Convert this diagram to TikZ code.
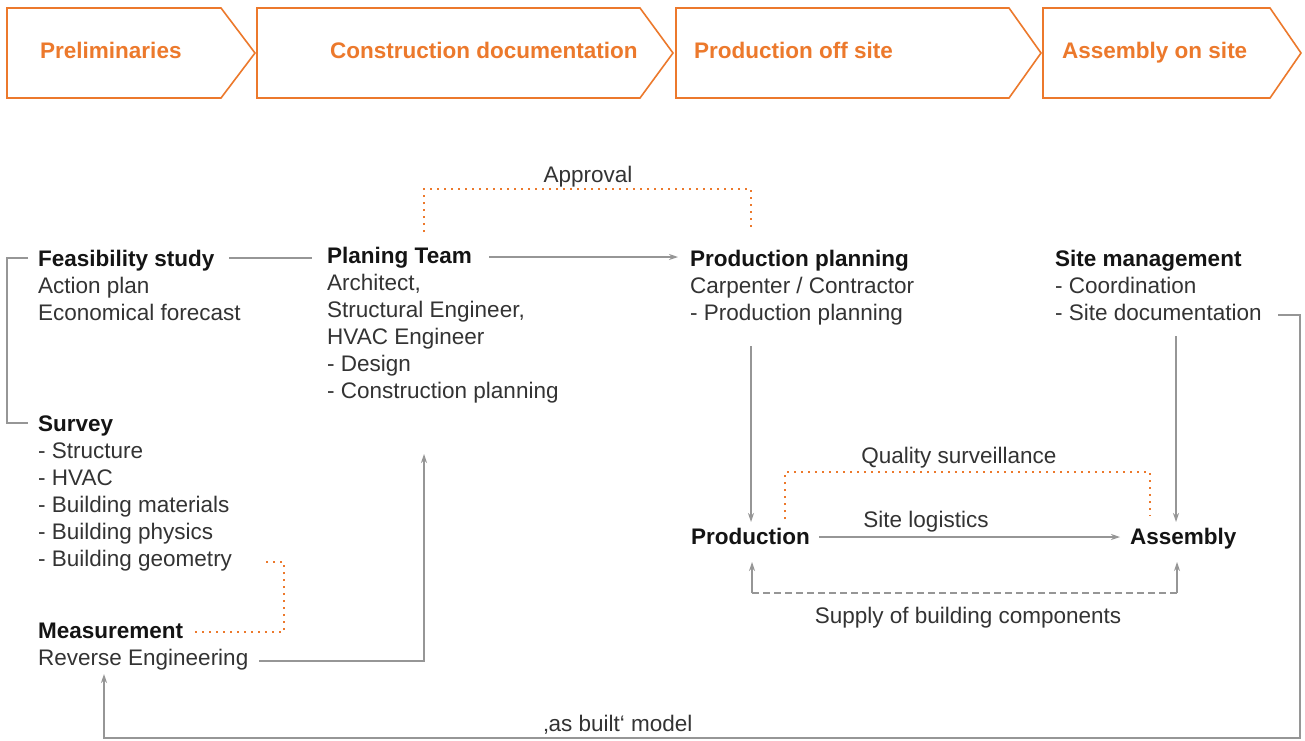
\documentclass[tikz,border=0pt]{standalone}
\usepackage{fontspec}
\setmainfont{Liberation Sans}
\usetikzlibrary{arrows.meta}
\definecolor{orng}{RGB}{236,121,44}
\definecolor{lgray}{RGB}{150,150,150}
\definecolor{txt}{RGB}{51,51,51}
\definecolor{hd}{RGB}{20,20,20}
\begin{document}
\begin{tikzpicture}[x=1pt,y=-1pt,
  chev/.style={draw=orng,line width=1.6pt,line join=miter},
  ttl/.style={anchor=base west,inner sep=0pt,text=orng,font=\fontsize{22.5}{27}\selectfont\bfseries},
  blk/.style={anchor=north west,inner sep=0pt,align=left,text=txt,font=\fontsize{22.5}{27}\selectfont},
  one/.style={anchor=base west,inner sep=0pt,text=hd,font=\fontsize{22.5}{27}\selectfont\bfseries},
  lbl/.style={anchor=base,inner sep=0pt,text=txt,font=\fontsize{22.5}{27}\selectfont},
  conn/.style={draw=lgray,line width=1.1pt},
  arr/.style={conn,-{Stealth[length=9pt,width=6pt]}},
  dots/.style={draw=orng,line width=2.4pt,dash pattern=on 2.4pt off 4.6pt},
  dsh/.style={draw=lgray,line width=1.1pt,dash pattern=on 7pt off 4pt}]
\useasboundingbox (0,0) rectangle (1305,740);
\fill[white] (0,0) rectangle (1305,740);
% chevrons
\draw[chev] (7,8) -- (221,8) -- (255,53) -- (221,98) -- (7,98) -- cycle;
\draw[chev] (257,8) -- (640,8) -- (673,53) -- (640,98) -- (257,98) -- cycle;
\draw[chev] (676,8) -- (1009,8) -- (1041,53) -- (1009,98) -- (676,98) -- cycle;
\draw[chev] (1043,8) -- (1270,8) -- (1301,53) -- (1270,98) -- (1043,98) -- cycle;
\node[ttl] (t1) at (40,58) {Preliminaries};
\node[ttl] (t2) at (330,58) {Construction documentation};
\node[ttl] (t3) at (694,58) {Production off site};
\node[ttl] (t4) at (1062,58) {Assembly on site};
% blocks
\node[blk] (feas) at (38,250) {{\color{hd}\bfseries Feasibility study}\\Action plan\\Economical forecast};
\node[blk] (plan) at (327,247) {{\color{hd}\bfseries Planing Team}\\Architect,\\Structural Engineer,\\HVAC Engineer\\- Design\\- Construction planning};
\node[blk] (pp) at (690,250) {{\color{hd}\bfseries Production planning}\\Carpenter / Contractor\\- Production planning};
\node[blk] (sm) at (1055,250) {{\color{hd}\bfseries Site management}\\- Coordination\\- Site documentation};
\node[blk] (surv) at (38,416) {{\color{hd}\bfseries Survey}\\- Structure\\- HVAC\\- Building materials\\- Building physics\\- Building geometry};
\node[blk] (meas) at (38,623) {{\color{hd}\bfseries Measurement}\\Reverse Engineering};
\node[one] (prod) at (691,544) {Production};
\node[one] (asm) at (1130,544) {Assembly};
% labels
\node[lbl] (lapp) at (588,182) {Approval};
\node[lbl] (lqual) at (959,463) {Quality surveillance};
\node[lbl] (llog) at (926,527) {Site logistics};
\node[lbl] (lsup) at (968,623) {Supply of building components};
\node[lbl] (lasb) at (618,731) {‚as built‘ model};
% coordinates
\coordinate (b1) at (28,258); \coordinate (b2) at (7,258);
\coordinate (b3) at (7,423); \coordinate (b4) at (28,423);
\coordinate (f1) at (229,258); \coordinate (f2) at (312,258);
\coordinate (p1) at (489,257); \coordinate (p2) at (678,257);
\coordinate (a1) at (424,232); \coordinate (a2) at (424,189);
\coordinate (a3) at (751,189); \coordinate (a4) at (751,230);
\coordinate (pp1) at (751,346); \coordinate (pp2) at (751,522);
\coordinate (sm1) at (1176,336); \coordinate (sm2) at (1176,522);
\coordinate (s1) at (1278,315); \coordinate (s2) at (1300,315);
\coordinate (s3) at (1300,738); \coordinate (s4) at (104,738);
\coordinate (s5) at (104,674);
\coordinate (r1) at (259,661); \coordinate (r2) at (424,661);
\coordinate (r3) at (424,454);
\coordinate (m1) at (195,632); \coordinate (m2) at (284,632);
\coordinate (m3) at (284,562); \coordinate (m4) at (262,562);
\coordinate (l1) at (819,537); \coordinate (l2) at (1120,537);
\coordinate (q1) at (785,519); \coordinate (q2) at (785,472);
\coordinate (q3) at (1150,472); \coordinate (q4) at (1150,516);
\coordinate (u1) at (752,562); \coordinate (u2) at (752,593);
\coordinate (u3) at (1177,593); \coordinate (u4) at (1177,562);
% connectors
\draw[conn] (b1) -- (b2) -- (b3) -- (b4);
\draw[conn] (f1) -- (f2);
\draw[arr] (p1) -- (p2);
\draw[dots] (a1) -- (a2) -- (a3) -- (a4);
\draw[arr] (pp1) -- (pp2);
\draw[arr] (sm1) -- (sm2);
\draw[arr] (s1) -- (s2) -- (s3) -- (s4) -- (s5);
\draw[arr] (r1) -- (r2) -- (r3);
\draw[dots] (m1) -- (m2) -- (m3) -- (m4);
\draw[arr] (l1) -- (l2);
\draw[dots] (q1) -- (q2) -- (q3) -- (q4);
\draw[dsh] (u2) -- (u3);
\draw[arr] (u2) -- (u1);
\draw[arr] (u3) -- (u4);
\end{tikzpicture}
\end{document}
